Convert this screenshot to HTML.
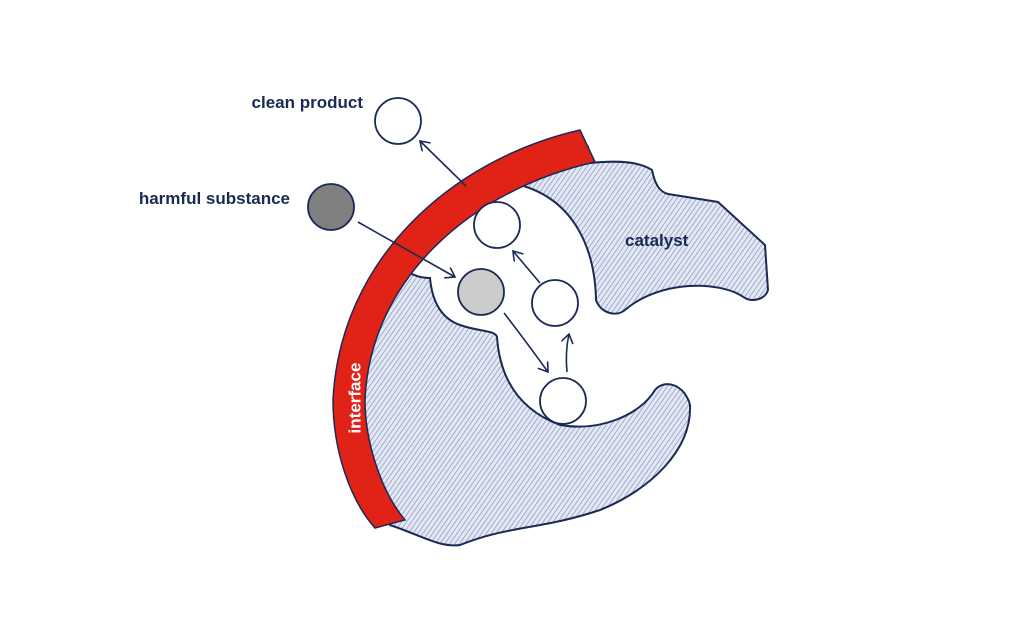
<!DOCTYPE html>
<html><head><meta charset="utf-8"><style>
html,body{margin:0;padding:0;background:#fff;}
svg{display:block;}
text{font-family:"Liberation Sans",sans-serif;font-weight:bold;fill:#1b2a55;}
</style></head><body>
<svg width="1024" height="621" viewBox="0 0 1024 621" xmlns="http://www.w3.org/2000/svg">
<defs>
<pattern id="h" width="4" height="4" patternUnits="userSpaceOnUse" patternTransform="rotate(35)">
<rect width="4" height="4" fill="#e4e8f3"/>
<line x1="0" y1="0" x2="0" y2="4" stroke="#7d8dbd" stroke-width="1.3"/>
</pattern>
<marker id="a" markerWidth="14" markerHeight="14" refX="10" refY="6" orient="auto" markerUnits="userSpaceOnUse">
<path d="M1 0 L10 6 L1 12" fill="none" stroke="#1b2a55" stroke-width="1.6"/>
</marker>
</defs>
<path d="M390 525 C355 480 345 440 348 400 C352 280 450 180 588 147 L590 163 C620 160 640 162 652 170 C655 185 660 192 668 194 L718 202 L765 245 L768 290 C765 300 752 302 745 298 C720 280 660 280 625 310 C615 318 600 312 596 300 C595 250 575 200 520 185 L478 180 L425 220 L398 262 L400 266 C410 275 420 278 430 278 C432 300 440 318 460 325 C480 332 495 330 497 337 C500 380 520 410 560 425 C600 432 640 415 655 390 C665 378 685 385 690 405 C692 450 650 490 600 510 C540 530 510 525 460 545 C440 548 420 535 390 525 Z" fill="url(#h)" stroke="#1b2a55" stroke-width="2"/>
<path d="M580 130 C450 160 340 260 333 400 C333 450 350 500 375 528 L405 520 C380 490 365 440 365 400 C370 280 470 190 595 162 Z" fill="#e02316" stroke="#1b2a55" stroke-width="1.5"/>
<text x="356" y="398" transform="rotate(-90 356 398)" text-anchor="middle" dominant-baseline="middle" style="fill:#fff;font-size:17px">interface</text>
<text x="363" y="108" text-anchor="end" font-size="17">clean product</text>
<text x="290" y="204" text-anchor="end" font-size="17">harmful substance</text>
<text x="625" y="246" font-size="17">catalyst</text>
<g stroke="#1b2a55" stroke-width="1.8">
<circle cx="398" cy="121" r="23" fill="#fff"/>
<circle cx="331" cy="207" r="23" fill="#808080"/>
<circle cx="481" cy="292" r="23" fill="#cccccc"/>
<circle cx="497" cy="225" r="23" fill="#fff"/>
<circle cx="555" cy="303" r="23" fill="#fff"/>
<circle cx="563" cy="401" r="23" fill="#fff"/>
</g>
<g stroke="#1b2a55" stroke-width="1.6" fill="none" marker-end="url(#a)">
<path d="M466 186 L420 141"/>
<path d="M358 222 L455 277"/>
<path d="M504 313 Q525 340 548 372"/>
<path d="M567 372 Q565 352 569 334"/>
<path d="M540 283 L513 251"/>
</g>
</svg>
</body></html>
